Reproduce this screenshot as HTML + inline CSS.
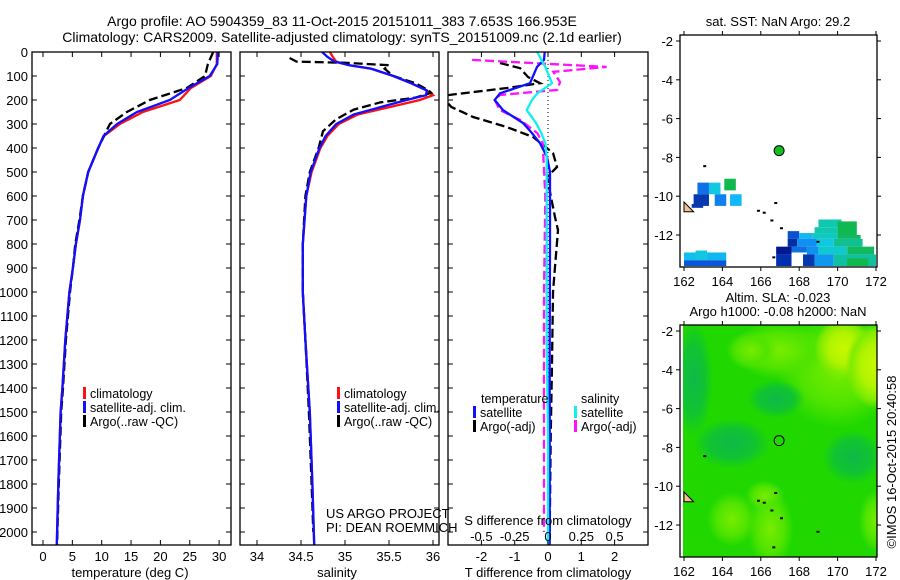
<!DOCTYPE html>
<html><head><meta charset="utf-8"><style>
html,body{margin:0;padding:0;background:#fff;}
svg{display:block;font-family:"Liberation Sans",sans-serif;}
text{fill:#000;}
</style></head><body>
<svg id="fig" width="900" height="580" viewBox="0 0 900 580" xmlns="http://www.w3.org/2000/svg">
<defs>
<clipPath id="c1"><rect x="32" y="52" width="199" height="493"/></clipPath>
<clipPath id="c2"><rect x="240" y="52" width="199" height="493"/></clipPath>
<clipPath id="c3"><rect x="448" y="52" width="200" height="493"/></clipPath>
<clipPath id="cm1"><rect x="680" y="35" width="197" height="232"/></clipPath>
<clipPath id="cm2"><rect x="680" y="325" width="197" height="232"/></clipPath>
<radialGradient id="gy"><stop offset="0" stop-color="#c8f800"/><stop offset="0.5" stop-color="#b0f400"/><stop offset="0.8" stop-color="#80ec00"/><stop offset="1" stop-color="#80ec00" stop-opacity="0"/></radialGradient>
<radialGradient id="gl"><stop offset="0" stop-color="#78ec00"/><stop offset="0.6" stop-color="#50e400"/><stop offset="1" stop-color="#50e400" stop-opacity="0"/></radialGradient>
<radialGradient id="gd"><stop offset="0" stop-color="#10b848"/><stop offset="0.6" stop-color="#10c430"/><stop offset="1" stop-color="#10c430" stop-opacity="0"/></radialGradient>
</defs>
<text x="342" y="26" font-size="14" text-anchor="middle">Argo profile: AO 5904359_83 11-Oct-2015 20151011_383 7.653S 166.953E</text>
<text x="342" y="42" font-size="14" text-anchor="middle">Climatology: CARS2009. Satellite-adjusted climatology: synTS_20151009.nc (2.1d earlier)</text>
<g id="g1"></g>
<g id="g2"></g>
<g id="g3"></g>
<g id="m1"></g>
<g id="m2"></g>
<text transform="translate(896,462) rotate(-90)" font-size="13" text-anchor="middle">©IMOS 16-Oct-2015 20:40:58</text>
</svg>
<script>
// ---- data ----
const tDepth = [0,50,100,150,200,250,300,350,400,500,600,700,800,900,1000,1200,1400,1500,1800,2000,2054];
const tClim  = [29.6,29.6,28.6,25.2,23.3,17,13.1,10.4,9.4,7.7,6.8,6.3,5.6,5.1,4.5,3.8,3.3,3.0,2.6,2.4,2.35];
const tSat   = [29.8,29.7,28.4,24.8,21.6,16,12.6,10.3,9.4,7.7,6.8,6.3,5.6,5.1,4.5,3.8,3.3,3.0,2.6,2.4,2.35];
const tArgo  = [29.0,28.1,27.6,24.5,18.2,14.3,11.4,10.4,9.4,7.7,6.8,6.2,5.5,5.1,4.6,3.9,3.4,3.1,2.7,2.45,2.4];
const sDepth = [0,20,40,55,70,100,130,160,180,200,230,260,300,350,400,500,600,800,1000,1200,1500,1800,2054];
const sClim  = [34.83,34.86,34.9,35.05,35.3,35.55,35.75,35.93,36.0,35.85,35.5,35.15,34.93,34.8,34.72,34.62,34.56,34.52,34.52,34.55,34.6,34.63,34.65];
const sSat   = [34.74,34.8,34.88,35.05,35.3,35.55,35.75,35.93,35.92,35.7,35.4,35.1,34.9,34.78,34.71,34.61,34.56,34.52,34.52,34.55,34.6,34.63,34.65];
const saDepth= [25,40,45,55,70,100,130,160,170,190,210,240,280,330,400,500,600,800,1000,1200,1500,1800,2000];
const sArgo  = [34.37,34.45,35.0,35.5,35.45,35.55,35.8,35.95,35.98,35.8,35.4,35.1,34.9,34.75,34.7,34.6,34.55,34.52,34.52,34.55,34.59,34.62,34.64];
const dDepth = [0,33,62,130,172,200,242,296,338,380,437,500,800,1200,1600,2054];
const dTsat  = [-0.1,-0.12,-0.33,-0.54,-1.44,-1.6,-1.35,-0.75,-0.48,-0.24,-0.03,0.06,0.06,0.05,0.05,0.05];
const dSsat  = [-0.08,-0.05,-0.02,0.03,-0.08,-0.12,-0.16,-0.09,-0.05,-0.02,-0.01,-0.01,-0.01,-0.01,0,0];
const daDepth= [46,67,104,130,150,183,229,271,313,354,421,479,521,688,742,896,1000,1300,1600,2000];
const dTargo = [-1.44,-0.84,-0.6,-0.24,-1.23,-3.2,-2.9,-2.25,-1.23,-0.45,0.15,0.27,-0.03,0.21,0.3,0.21,0.15,0.12,0.08,0.05];
const dsDepth= [33,33,62,83,125,158,179,200,242,283,338,380,600,1000,1500,2000];
const dSargo = [-0.57,-0.57,0.44,0.04,0.09,0.07,-0.36,-0.4,-0.36,-0.21,-0.08,-0.04,-0.02,-0.03,-0.03,-0.03];
const depthTicks = [0,100,200,300,400,500,600,700,800,900,1000,1100,1200,1300,1400,1500,1600,1700,1800,1900,2000];
const tTicks = [0,5,10,15,20,25,30];
const sTicks = [34,34.5,35,35.5,36];
const sTickLabels = ["34","34.5","35","35.5","36"];
const dTTicks = [-2,-1,0,1,2];
const dSTicks = [-0.5,-0.25,0,0.25,0.5];
const dSTickLabels = ["-0.5","-0.25","0","0.25","0.5"];
const latTicks = [-2,-4,-6,-8,-10,-12];
const lonTicks = [162,164,166,168,170,172];
const argoLon = 166.953, argoLat = -7.653;
// SST map cells: lon0, lon1, lat0, lat1, color
const sstCells = [
 [162.7,163.3,-9.3,-9.9,"#1070e8"],[163.3,163.9,-9.3,-9.9,"#10c8e0"],[164.1,164.7,-9.1,-9.7,"#10b850"],
 [162.5,163.3,-9.9,-10.5,"#0838b0"],[163.6,164.2,-9.9,-10.5,"#1080f0"],[164.4,165.0,-9.9,-10.5,"#10b8f8"],
 [162.4,163.0,-10.4,-10.6,"#0838b0"],
 [162.0,162.6,-12.9,-13.3,"#10c0e8"],[162.6,163.2,-12.8,-13.3,"#10c8e0"],[163.2,164.2,-12.9,-13.3,"#10b8f0"],
 [162.0,164.2,-13.3,-13.6,"#0a58d8"],
 [169.0,170.2,-11.2,-11.6,"#10c8b0"],[168.8,170.0,-11.6,-11.9,"#10c8b0"],[170.0,171.0,-11.3,-12.0,"#10b850"],
 [167.4,168.0,-11.8,-12.2,"#0c50d0"],[168.0,168.7,-11.9,-12.2,"#10b8f0"],[168.7,170.0,-11.9,-12.2,"#10c8c0"],[170.0,171.2,-12.0,-12.2,"#10b860"],
 [167.4,167.9,-12.2,-12.6,"#0030a0"],[167.9,168.9,-12.2,-12.6,"#1090f0"],[168.9,169.8,-12.2,-12.6,"#10c8e0"],[169.8,171.3,-12.2,-12.6,"#10c090"],
 [166.8,167.6,-12.6,-13.0,"#001890"],[167.6,168.4,-12.6,-12.9,"#1070e0"],[168.4,169.0,-12.6,-13.0,"#1090f0"],[169.0,170.5,-12.6,-13.0,"#10c8d0"],[170.5,171.9,-12.6,-13.0,"#10b860"],
 [166.8,167.6,-13.0,-13.6,"#0030b0"],[168.2,168.8,-13.0,-13.6,"#0838b0"],[168.8,169.8,-13.0,-13.6,"#1098f0"],[169.8,172.0,-13.0,-13.6,"#10c0a0"],[170.5,171.6,-13.2,-13.6,"#10b850"]
];
// SLA blobs: lon, lat, rx(deg), ry(deg), kind
const slaBlobs = [
 [170,-4,3.2,3.0,"gl"],[167,-3,2.5,1.5,"gl"],[165.5,-3,1.3,1.0,"gl"],
 [170.3,-2.9,1.5,1.6,"gy"],[172,-3.8,1.6,2.2,"gy"],
 [164.5,-11.7,1.3,1.4,"gl"],[166.5,-12.2,1.2,2.0,"gl"],[166.2,-10.5,1.0,0.8,"gl"],[172,-11.8,0.9,1.6,"gl"],
 [164.5,-7.8,2.0,1.3,"gd"],[170.8,-8.5,1.6,1.4,"gd"],[162.5,-4.5,1.0,3,"gd"],[166.8,-5.5,1.5,1.0,"gd"]
];
// ---- helpers ----
const NS="http://www.w3.org/2000/svg";
function mk(parent,tag,attrs,txt){const e=document.createElementNS(NS,tag);for(const k in attrs)e.setAttribute(k,attrs[k]);if(txt!==undefined)e.textContent=txt;parent.appendChild(e);return e;}
const yD = d => 52 + d*0.24;
const xT = t => 43 + t*5.87;
const xS = s => 257 + (s-34)*88;
const xDT = t => 548 + t*33.3;
const xDS = s => 548 + s*133.2;
const mx = lon => 684 + (lon-162)*19.2;
const my1 = lat => 41 + (-2-lat)*19.4;
const my2 = lat => 331 + (-2-lat)*19.4;
function pts(xs,ds,fx){return xs.map((v,i)=>fx(v).toFixed(1)+","+yD(ds[i]).toFixed(1)).join(" ");}
function line(g,xs,ds,fx,col,dash,name,clip){
  const p=mk(g,"polyline",{points:pts(xs,ds,fx),fill:"none",stroke:col,"stroke-width":2.3,"clip-path":"url(#"+clip+")"});
  if(dash)p.setAttribute("stroke-dasharray",dash);
  
  
}
function frame(g,x,y,w,h,name){
  const r=mk(g,"rect",{x:x,y:y,width:w,height:h,fill:"none",stroke:"#000","stroke-width":1.3});
  
  
}
function depthTicksOn(g,x0,x1,labels){
  depthTicks.forEach(d=>{const y=yD(d);
    mk(g,"line",{x1:x0,y1:y,x2:x0+5,y2:y,stroke:"#000"});
    mk(g,"line",{x1:x1,y1:y,x2:x1-5,y2:y,stroke:"#000"});
    if(labels){const t=mk(g,"text",{x:x0-4,y:y+5,"font-size":13,"text-anchor":"end"},String(d));
      
      }
  });
}
function xTicksOn(g,ticks,labs,fx,ly){
  ticks.forEach((v,i)=>{const x=fx(v);
    mk(g,"line",{x1:x,y1:545,x2:x,y2:540,stroke:"#000"});
    mk(g,"line",{x1:x,y1:52,x2:x,y2:57,stroke:"#000"});
    const t=mk(g,"text",{x:x,y:ly,"font-size":13,"text-anchor":"middle"},labs[i]);
    
    
  });
}
function legend(g,x,y,col,label){
  mk(g,"rect",{x:x,y:y-10,width:3,height:12,fill:col});
  const t=mk(g,"text",{x:x+7,y:y+1,"font-size":12.5},label);
  
  
}
function label(g,x,y,s,txt,name,anchor){
  const t=mk(g,"text",{x:x,y:y,"font-size":s,"text-anchor":anchor||"middle"},txt);
  
  
}
// ---- panel 1 ----
const g1=document.getElementById("g1");
line(g1,tClim,tDepth,xT,"#ff1010",null,"temp-climatology-line","c1");
line(g1,tArgo,tDepth,xT,"#000",'9,4',"temp-argo-line","c1");
line(g1,tSat,tDepth,xT,"#1010ff",null,"temp-satellite-line","c1");
frame(g1,32,52,199,493,"temp-axes-frame");
depthTicksOn(g1,32,231,true);
xTicksOn(g1,tTicks,tTicks.map(String),xT,561);
label(g1,130,577,13,"temperature (deg C)","x-axis-title-temperature");
legend(g1,83,397,"#ff1010","climatology");
legend(g1,83,411,"#1010ff","satellite-adj. clim.");
legend(g1,83,425,"#000","Argo(..raw -QC)");
// ---- panel 2 ----
const g2=document.getElementById("g2");
line(g2,sClim,sDepth,xS,"#ff1010",null,"sal-climatology-line","c2");
line(g2,sArgo,saDepth,xS,"#000",'9,4',"sal-argo-line","c2");
line(g2,sSat,sDepth,xS,"#1010ff",null,"sal-satellite-line","c2");
frame(g2,240,52,199,493,"sal-axes-frame");
depthTicksOn(g2,240,439,false);
xTicksOn(g2,sTicks,sTickLabels,xS,561);
label(g2,337,577,13,"salinity","x-axis-title-salinity");
legend(g2,337,397,"#ff1010","climatology");
legend(g2,337,411,"#1010ff","satellite-adj. clim.");
legend(g2,337,425,"#000","Argo(..raw -QC)");
label(g2,326,518,13,"US ARGO PROJECT","credit-project","start");
label(g2,326,532,13,"PI: DEAN ROEMMICH","credit-pi","start");
// ---- panel 3 ----
const g3=document.getElementById("g3");
const zl=mk(g3,"line",{x1:548,y1:52,x2:548,y2:545,stroke:"#000","stroke-dasharray":"1,3"});


line(g3,dTargo,daDepth,xDT,"#000",'9,4',"t-argo-diff-line","c3");
line(g3,dSargo,dsDepth,xDS,"#ff10ff",'9,4',"s-argo-diff-line","c3");
line(g3,dTsat,dDepth,xDT,"#1010ff",null,"t-satellite-diff-line","c3");
line(g3,dSsat,dDepth,xDS,"#10f0f0",null,"s-satellite-diff-line","c3");
frame(g3,448,52,200,493,"diff-axes-frame");
depthTicksOn(g3,448,648,false);
xTicksOn(g3,dTTicks,dTTicks.map(String),xDT,561);
dSTicks.forEach((v,i)=>label(g3,xDS(v),541,13,dSTickLabels[i],"s-tick-label"));
label(g3,548,525,13,"S difference from climatology","s-axis-title");
label(g3,548,577,13,"T difference from climatology","t-axis-title");
label(g3,481,403,12.5,"temperature","legend-temperature-header","start");
legend(g3,473,416,"#1010ff","satellite");
legend(g3,473,430,"#000","Argo(-adj)");
label(g3,581,403,12.5,"salinity","legend-salinity-header","start");
legend(g3,574,416,"#10f0f0","satellite");
legend(g3,574,430,"#ff10ff","Argo(-adj)");
// ---- maps ----
function mapAxes(g,y0,myf,name){
  frame(g,680,y0,197,232,name);
  latTicks.forEach(l=>{const y=myf(l);
    mk(g,"line",{x1:680,y1:y,x2:676,y2:y,stroke:"#000"});
    mk(g,"line",{x1:877,y1:y,x2:881,y2:y,stroke:"#000"});
    label(g,673,y+5,13,String(l),"lat-tick-label","end");});
  lonTicks.forEach(l=>{const x=mx(l);
    mk(g,"line",{x1:x,y1:y0,x2:x,y2:y0-4,stroke:"#000"});
    mk(g,"line",{x1:x,y1:y0+232,x2:x,y2:y0+236,stroke:"#000"});
    label(g,x,y0+251,13,String(l),"lon-tick-label");});
}
function coast(g,myf){
  mk(g,"path",{d:`M${mx(162)},${myf(-10.3)} L${mx(162.3)},${myf(-10.6)} L${mx(162.5)},${myf(-10.8)} L${mx(162)},${myf(-10.8)} Z`,fill:"#f8c090",stroke:"#000"});
  [[163,-8.4],[166.7,-10.3],[165.8,-10.7],[166.1,-10.8],[166.5,-11.2],[167,-11.6],[168.9,-12.3],[166.6,-13.1]].forEach(p=>
    mk(g,"rect",{x:mx(p[0]),y:myf(p[1]),width:3,height:2,fill:"#000"}));
}
const m1=document.getElementById("m1");
const c1g=mk(m1,"g",{"clip-path":"url(#cm1)"});
sstCells.forEach(c=>{const r=mk(c1g,"rect",{x:mx(c[0]),y:my1(c[2]),width:mx(c[1])-mx(c[0]),height:my1(c[3])-my1(c[2]),fill:c[4]});
  
  });
coast(c1g,my1);
mapAxes(m1,35,my1,"sst-map-frame");
const d1=mk(m1,"circle",{cx:mx(argoLon),cy:my1(argoLat),r:5,fill:"#10c020",stroke:"#000"});


label(m1,778,26,13,"sat. SST: NaN Argo: 29.2","sst-map-title");
const m2=document.getElementById("m2");
const c2g=mk(m2,"g",{"clip-path":"url(#cm2)"});
mk(c2g,"rect",{x:680,y:325,width:197,height:232,fill:"#20d800"});
slaBlobs.forEach(b=>{const e=mk(c2g,"ellipse",{cx:mx(b[0]),cy:my2(b[1]),rx:b[2]*19.2,ry:b[3]*19.4,fill:"url(#"+b[4]+")"});
  
  });
coast(c2g,my2);
mk(c2g,"rect",{x:680,y:325,width:3,height:232,fill:"#fff"});
mapAxes(m2,325,my2,"sla-map-frame");
const d2=mk(m2,"circle",{cx:mx(argoLon),cy:my2(argoLat),r:5,fill:"none",stroke:"#000"});


label(m2,778,302,13,"Altim. SLA: -0.023","sla-map-title");
label(m2,778,316,13,"Argo h1000: -0.08 h2000: NaN","sla-map-subtitle");
</script>
</body></html>
